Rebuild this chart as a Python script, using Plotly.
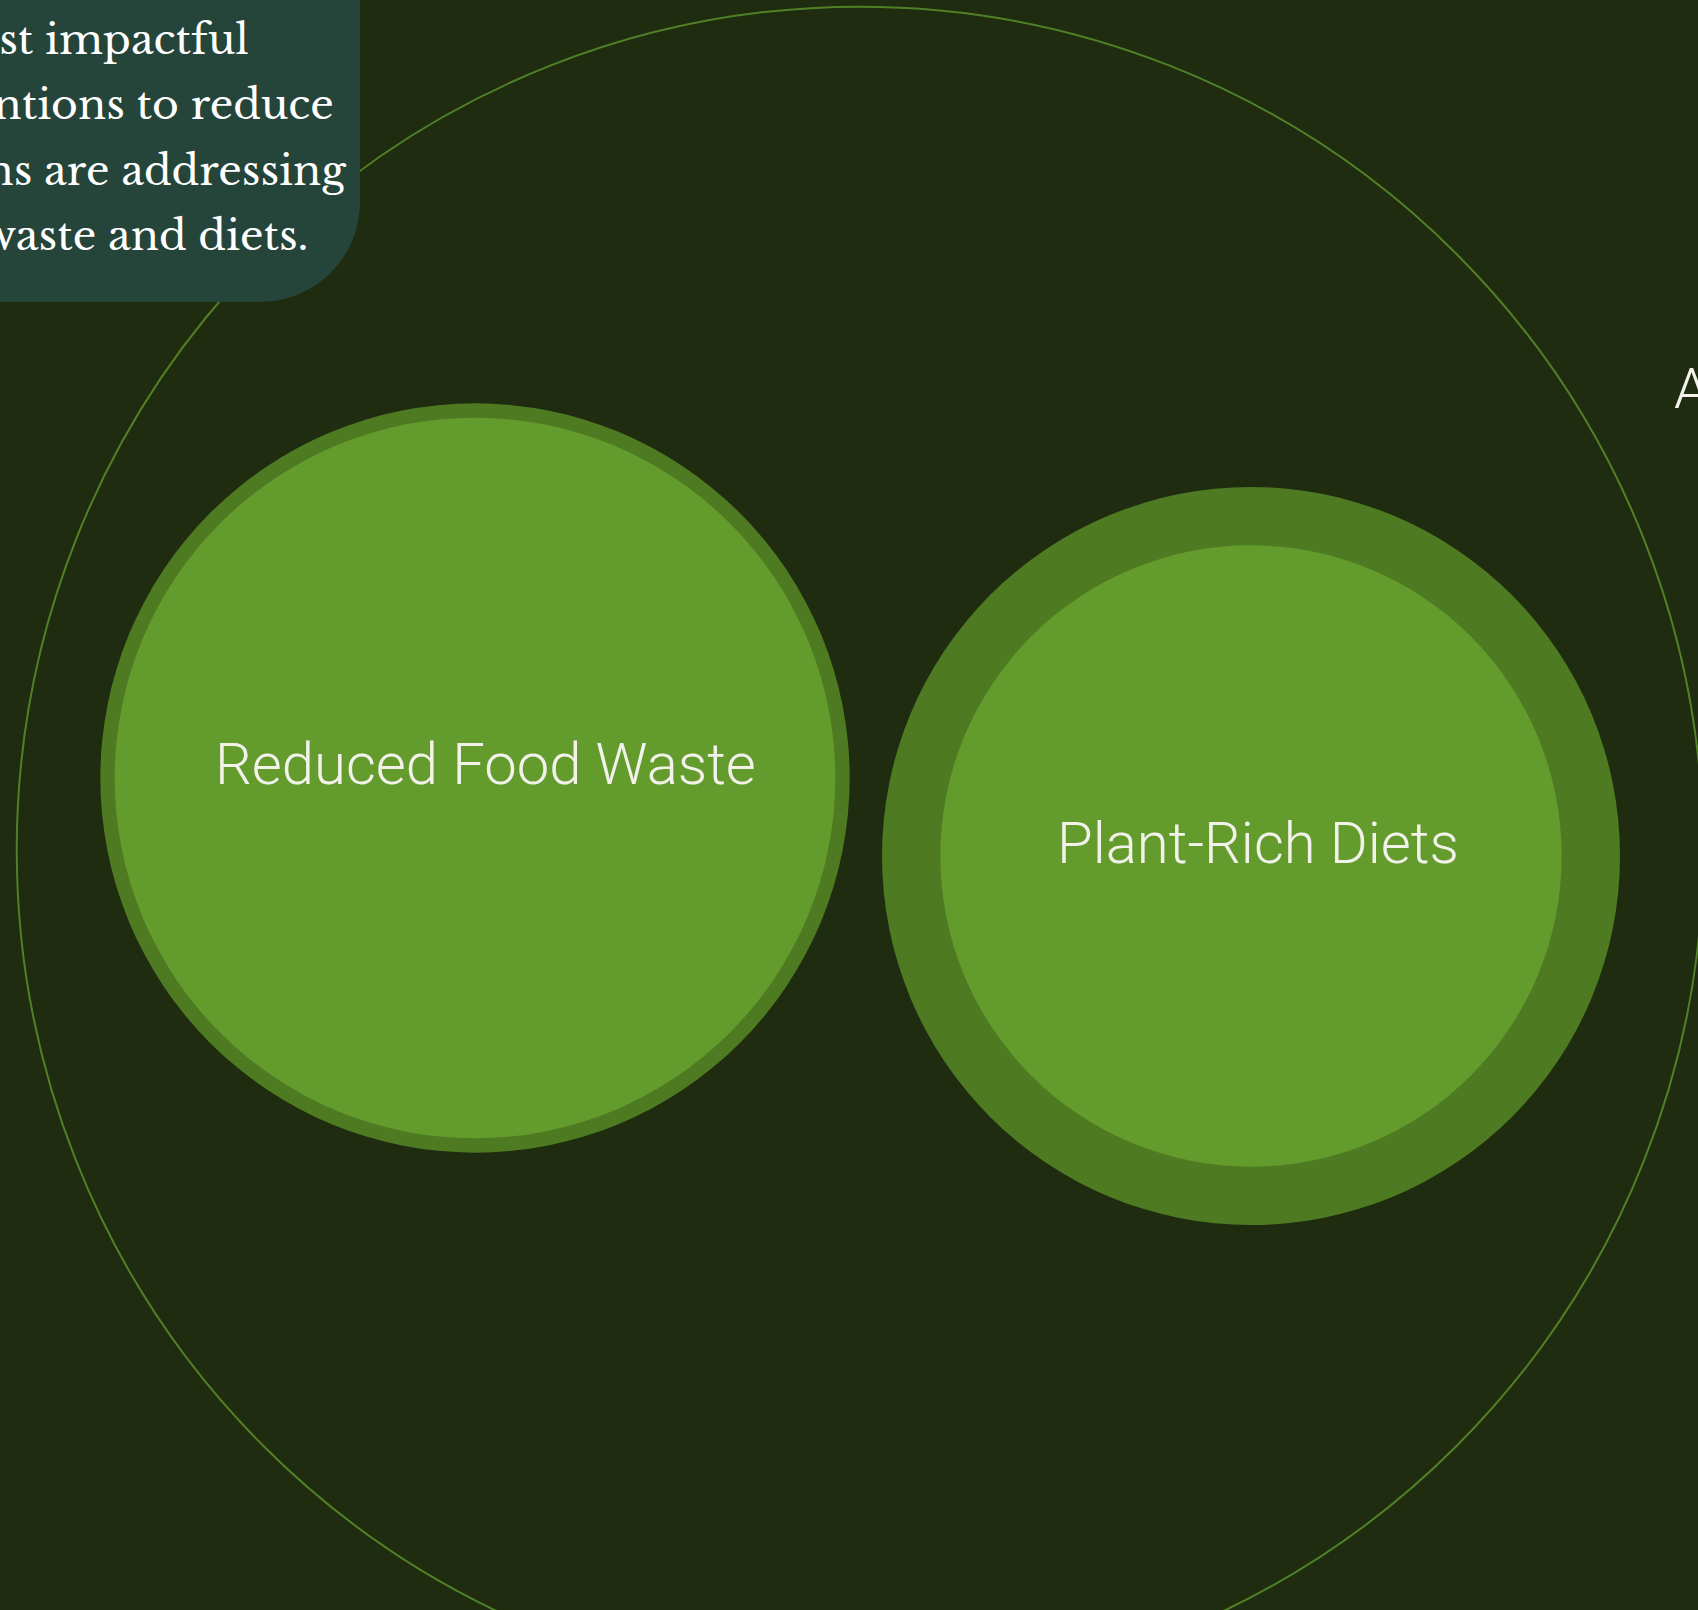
import math
import plotly.graph_objects as go

# Solutions and their emission reductions (Gt CO2-eq) under two scenarios
categories = ["Reduced Food Waste", "Plant-Rich Diets"]
reduction_high = [94.56, 91.72]   # outer ring
reduction_low = [87.45, 65.01]    # inner disc
sector_total = 479.0              # enclosing sector circle

side_label = "A"
intro_lines = [
    "The most impactful",
    "interventions to reduce",
    "emissions are addressing",
    "food waste and diets.",
]

# ---- layout constants (pixels) ----
W, H = 1698, 1610
PX_PER_SQRT = 38.53                      # radius = k * sqrt(value)
centers = [(475, 778), (1251, 856)]
label_shift = [(10, -14), (7, -13)]
sector_center = (860, 850)

BG = "#1F2C10"
RING = "#4E7B22"
FILL = "#639C2C"
SECTOR_LINE = "#518026"
BOX = "#26453A"
TEXT = "#F2F2EA"
LABEL_FONT = "Helvetica Neue, Roboto, Liberation Sans, sans-serif"
SERIF_FONT = "Libre Baskerville, Baskerville, Liberation Serif, serif"


def radius(v):
    return PX_PER_SQRT * math.sqrt(v)


def circle(cx, cy, r, **kw):
    return dict(type="circle", xref="x", yref="y",
                x0=cx - r, x1=cx + r, y0=cy - r, y1=cy + r, **kw)


shapes = []

# enclosing sector outline
sr = radius(sector_total)
shapes.append(circle(*sector_center, sr, line=dict(color=SECTOR_LINE, width=2),
                     fillcolor="rgba(0,0,0,0)", layer="below"))

# solution bubbles: high-scenario ring with low-scenario disc inside
for (cx, cy), hi, lo in zip(centers, reduction_high, reduction_low):
    shapes.append(circle(cx, cy, radius(hi), line=dict(width=0), fillcolor=RING, layer="below"))
    shapes.append(circle(cx, cy, radius(lo), line=dict(width=0), fillcolor=FILL, layer="below"))

# intro text panel with a rounded lower-right corner
bx, by, rc = 360, 302, 100
k = 0.5523 * rc
panel = (f"M -20,-20 L {bx},-20 L {bx},{by - rc} "
         f"C {bx},{by - rc + k} {bx - rc + k},{by} {bx - rc},{by} "
         f"L -20,{by} Z")
shapes.append(dict(type="path", xref="x", yref="y", path=panel,
                   fillcolor=BOX, line=dict(width=0), layer="above"))

annotations = []
for (cx, cy), (dx, dy), name in zip(centers, label_shift, categories):
    annotations.append(dict(x=cx + dx, y=cy + dy, xref="x", yref="y", text=name,
                            showarrow=False, xanchor="center", yanchor="middle",
                            font=dict(family=LABEL_FONT, size=58, color=TEXT, weight=300)))

annotations.append(dict(x=1672, y=389, xref="x", yref="y", text=side_label,
                        showarrow=False, xanchor="left", yanchor="middle",
                        font=dict(family=LABEL_FONT, size=56, color=TEXT, weight=300)))

line_ends = [251, 336, 348, 310]
baselines = [57, 122, 188, 253]
for txt, xe, yb in zip(intro_lines, line_ends, baselines):
    annotations.append(dict(x=xe, y=yb + 10, xref="x", yref="y", text=txt,
                            showarrow=False, xanchor="right", yanchor="bottom",
                            font=dict(family=SERIF_FONT, size=41, color="#FFFFFF")))

fig = go.Figure()
fig.add_trace(go.Scatter(x=[c[0] for c in centers], y=[c[1] for c in centers],
                         mode="markers", marker=dict(size=1, opacity=0),
                         hoverinfo="skip", showlegend=False))
fig.update_layout(
    width=W, height=H, autosize=False,
    margin=dict(l=0, r=0, t=0, b=0),
    paper_bgcolor=BG, plot_bgcolor=BG,
    xaxis=dict(range=[0, W], visible=False, fixedrange=True),
    yaxis=dict(range=[H, 0], visible=False, fixedrange=True),
    shapes=shapes, annotations=annotations, showlegend=False,
)
fig.write_html("out.html", config=dict(displayModeBar=False))
